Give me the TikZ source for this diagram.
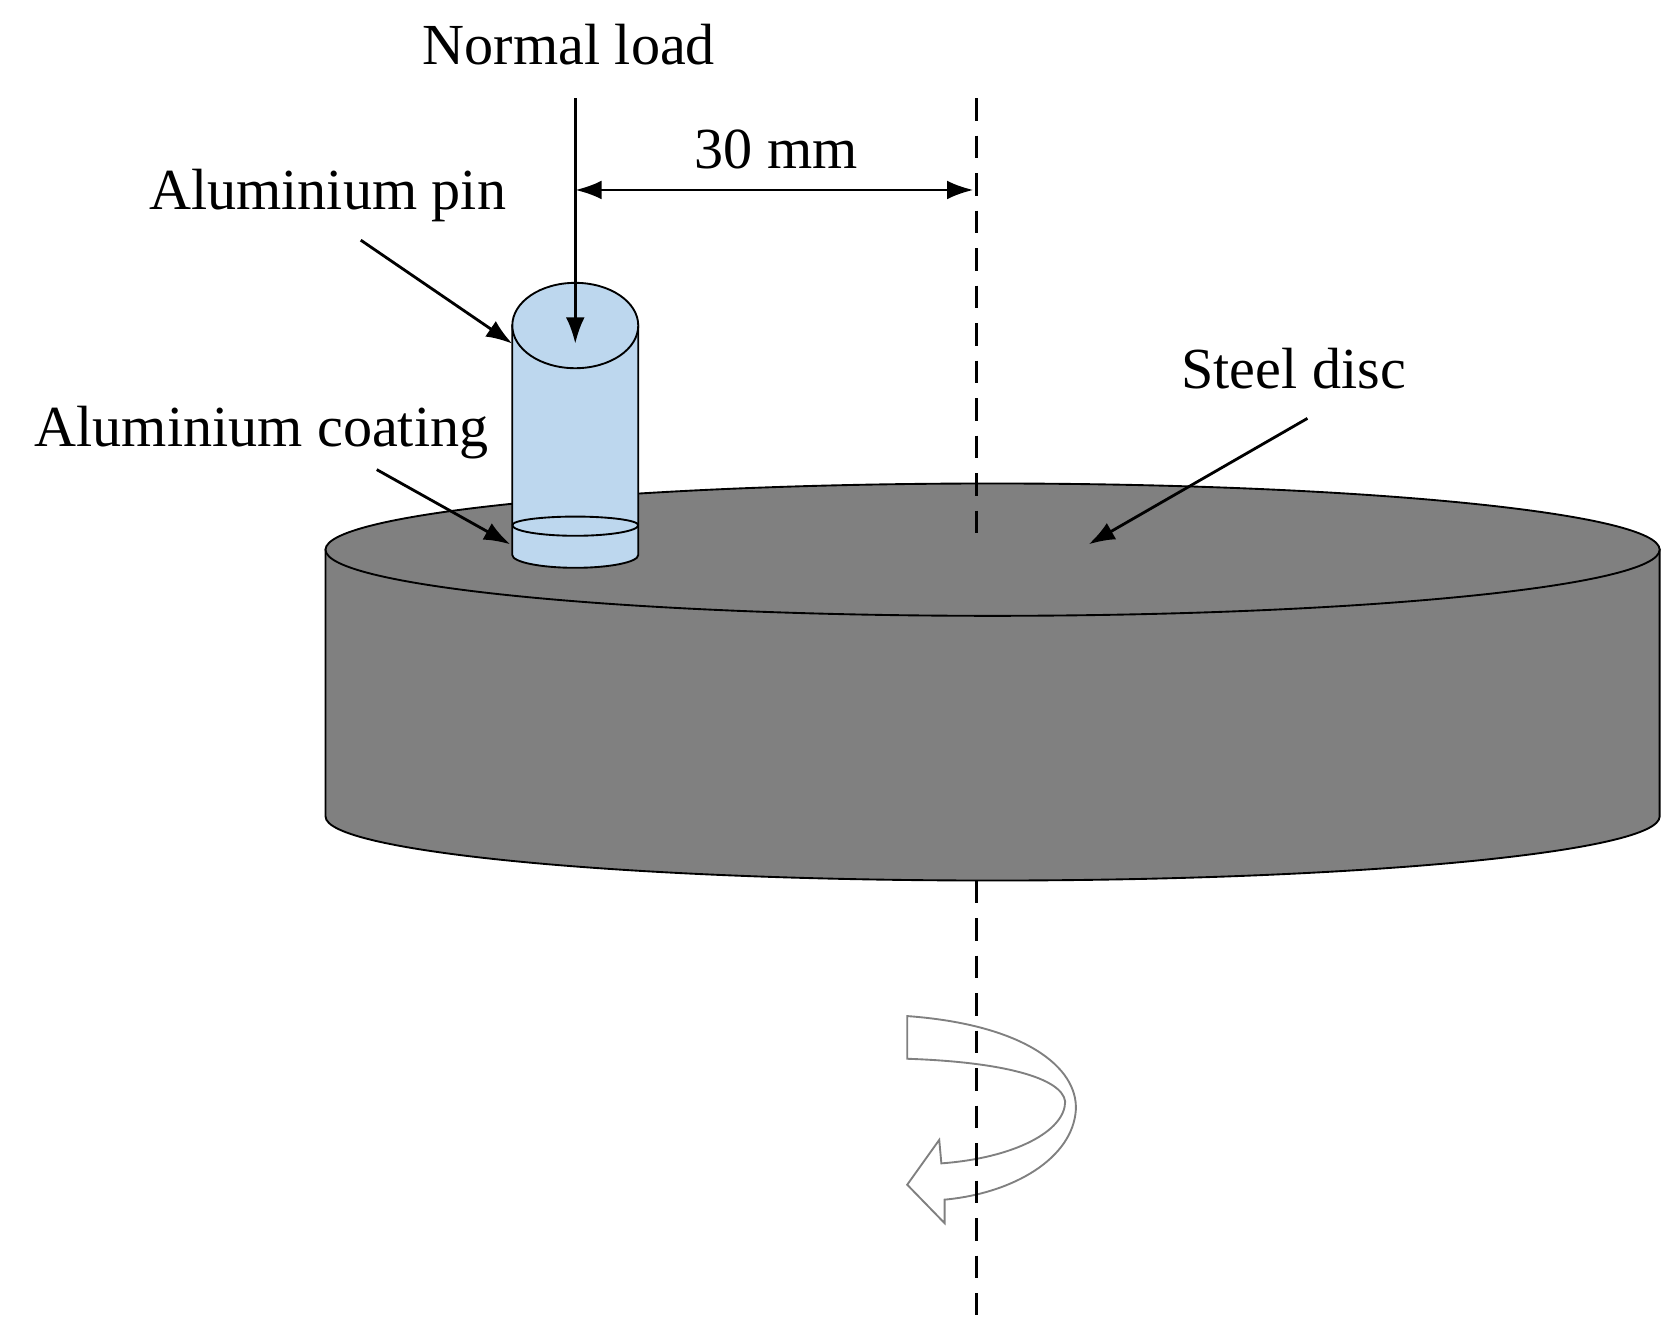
\documentclass[tikz,border=0pt]{standalone}
\usepackage{fontspec}
\setmainfont{Liberation Serif}
\usetikzlibrary{arrows.meta}
\definecolor{discgray}{RGB}{128,128,128}
\definecolor{pinblue}{RGB}{189,215,238}
\tikzset{
  lbl/.style={font=\fontsize{31}{36}\selectfont, inner sep=0pt},
  ptr/.style={-{Latex[length=14pt, width=10pt]}, line width=1.5pt},
  dim/.style={{Latex[length=14pt, width=10pt]}-{Latex[length=14pt, width=10pt]}, line width=1.5pt},
  axis/.style={dash pattern=on 12pt off 8pt, line width=1.3pt},
}
\begin{document}
\begin{tikzpicture}[x=0.02cm, y=-0.02cm, line width=1pt]
\useasboundingbox (0,0) rectangle (1560,1240);
% steel disc
\fill[discgray, draw=black] (305,515) -- (305,765) arc[start angle=180, end angle=0, x radius=625, y radius=60] -- (1555,515) -- cycle;
\filldraw[fill=discgray] (930,515) ellipse[x radius=625, y radius=62];
% pin
\filldraw[fill=pinblue] (480,305) -- (480,520) arc[start angle=180, end angle=0, x radius=59, y radius=12] -- (598,305) -- cycle;
\draw (480,492) arc[start angle=180, end angle=0, x radius=59, y radius=10];
\draw (480,492) arc[start angle=180, end angle=360, x radius=59, y radius=8];
\filldraw[fill=pinblue] (539,305) ellipse[x radius=59, y radius=40];
% axis
\coordinate (ax1) at (915,92);
\coordinate (ax2) at (915,510);
\coordinate (ax3) at (915,825);
\coordinate (ax4) at (915,1232);
% rotation arrow
\filldraw[fill=white, draw=gray, line width=1pt] (850,952) .. controls (960,960) and (1010,1000) .. (1008,1040)
  .. controls (1005,1085) and (950,1118) .. (885,1124) -- (885,1146) -- (850,1110) -- (880,1068) -- (882,1090)
  .. controls (950,1085) and (998,1060) .. (998,1032) .. controls (995,1010) and (940,995) .. (850,992) -- cycle;
\draw[axis] (ax1) -- (ax2);
\draw[axis] (ax3) -- (ax4);
% labels
\node[lbl] (load) at (533,42) {Normal load};
\node[lbl] (dist) at (727,140) {30 mm};
\node[lbl] (pin) at (307,183) {Aluminium pin};
\node[lbl] (coat) at (245,405) {Aluminium coating};
\node[lbl] (disc) at (1212,345) {Steel disc};
\coordinate (loadtop) at (539,92);
\coordinate (loadend) at (539,322);
\coordinate (dimL) at (539,178);
\coordinate (dimR) at (912,178);
\coordinate (pinS) at (338,225);
\coordinate (pinE) at (480,322);
\coordinate (coatS) at (353,440);
\coordinate (coatE) at (478,510);
\coordinate (discS) at (1225,392);
\coordinate (discE) at (1020,510);
\draw[ptr] (loadtop) -- (loadend);
\draw[dim] (dimL) -- (dimR);
\draw[ptr] (pinS) -- (pinE);
\draw[ptr] (coatS) -- (coatE);
\draw[ptr] (discS) -- (discE);
\end{tikzpicture}
\end{document}
